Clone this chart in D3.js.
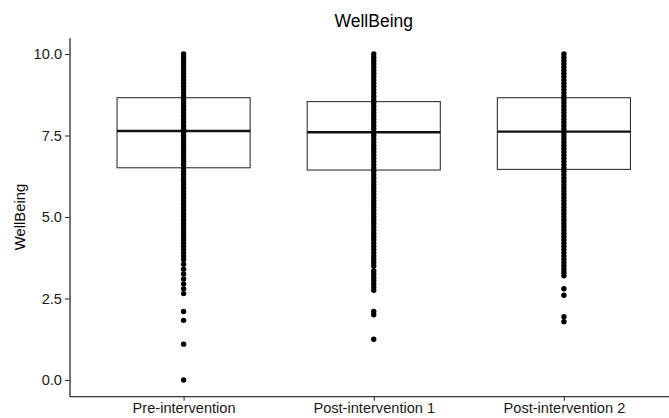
<!DOCTYPE html>
<html>
<head>
<meta charset="utf-8">
<script src="https://cdn.jsdelivr.net/npm/d3@7"></script>
<style>
  body { margin: 0; background: #fff; }
  svg { display: block; font-family: "Liberation Sans", Arial, sans-serif; }
</style>
</head>
<body>
<div id="chart"></div>
<script>
const width = 669;
const height = 418;

const categories = ['Pre-intervention', 'Post-intervention 1', 'Post-intervention 2'];

// box statistics
const q1 = [6.51, 6.44, 6.46];
const medians = [7.64, 7.60, 7.62];
const q3 = [8.66, 8.54, 8.66];
const whiskerLow = [3.4, 3.35, 3.2];
const whiskerHigh = [10, 10, 10];

// observed scores (one dot per distinct value, they overlap into a column)
const prePoints = [
    10.0, 9.9, 9.8, 9.7, 9.6, 9.5, 9.4, 9.3, 9.2, 9.1, 9.0, 8.9, 8.8, 8.7, 8.6, 8.5,
    8.4, 8.3, 8.2, 8.1, 8.0, 7.9, 7.8, 7.7, 7.6, 7.5, 7.4, 7.3, 7.2, 7.1, 7.0, 6.9,
    6.8, 6.7, 6.6, 6.5, 6.4, 6.3, 6.2, 6.1, 6.0, 5.9, 5.8, 5.7, 5.6, 5.5, 5.4, 5.3,
    5.2, 5.1, 5.0, 4.9, 4.8, 4.7, 4.6, 4.5, 4.4, 4.3, 4.2, 4.1, 4.0, 3.9, 3.8, 3.7,
    3.55, 3.4, 3.25, 3.1, 2.95, 2.8, 2.65,
    2.1, 1.83, 1.1, 0.0
];
const post1Points = [
    10.0, 9.9, 9.8, 9.7, 9.6, 9.5, 9.4, 9.3, 9.2, 9.1, 9.0, 8.9, 8.8, 8.7, 8.6, 8.5,
    8.4, 8.3, 8.2, 8.1, 8.0, 7.9, 7.8, 7.7, 7.6, 7.5, 7.4, 7.3, 7.2, 7.1, 7.0, 6.9,
    6.8, 6.7, 6.6, 6.5, 6.4, 6.3, 6.2, 6.1, 6.0, 5.9, 5.8, 5.7, 5.6, 5.5, 5.4, 5.3,
    5.2, 5.1, 5.0, 4.9, 4.8, 4.7, 4.6, 4.5, 4.4, 4.3, 4.2, 4.1, 4.0, 3.9, 3.8, 3.7,
    3.6, 3.5, 3.35, 3.25, 3.15, 3.05, 2.95, 2.85, 2.75,
    2.1, 2.0, 1.25
];
const post2Points = [
    10.0, 9.9, 9.8, 9.7, 9.6, 9.5, 9.4, 9.3, 9.2, 9.1, 9.0, 8.9, 8.8, 8.7, 8.6, 8.5,
    8.4, 8.3, 8.2, 8.1, 8.0, 7.9, 7.8, 7.7, 7.6, 7.5, 7.4, 7.3, 7.2, 7.1, 7.0, 6.9,
    6.8, 6.7, 6.6, 6.5, 6.4, 6.3, 6.2, 6.1, 6.0, 5.9, 5.8, 5.7, 5.6, 5.5, 5.4, 5.3,
    5.2, 5.1, 5.0, 4.9, 4.8, 4.7, 4.6, 4.5, 4.4, 4.3, 4.2, 4.1, 4.0, 3.9, 3.8, 3.7,
    3.6, 3.5, 3.4, 3.3, 3.2,
    2.8, 2.6,
    1.94, 1.79
];

const yTicks = [0, 2.5, 5, 7.5, 10];

const panel = {left: 69.5, right: 678, top: 37.7, bottom: 396.3};

const svg = d3.select('#chart').append('svg')
    .attr('width', width)
    .attr('height', height)
    .attr('viewBox', [0, 0, width, height]);

const x = d3.scalePoint()
    .domain(categories)
    .range([panel.left, panel.right])
    .padding(0.6);

const y = d3.scaleLinear()
    .domain([-0.5, 10.5])
    .range([panel.bottom, panel.top]);

const boxHalf = x.step() * 0.35;

const boxes = categories.map((c, i) => ({
    cat: c, q1: q1[i], med: medians[i], q3: q3[i], lo: whiskerLow[i], hi: whiskerHigh[i]
}));

const points = [];
prePoints.forEach(v => points.push({cat: categories[0], v}));
post1Points.forEach(v => points.push({cat: categories[1], v}));
post2Points.forEach(v => points.push({cat: categories[2], v}));

// boxes
const box = svg.append('g').selectAll('g').data(boxes).join('g');

box.append('line')
    .attr('x1', d => x(d.cat)).attr('x2', d => x(d.cat))
    .attr('y1', d => y(d.q3)).attr('y2', d => y(d.hi))
    .attr('stroke', '#333').attr('stroke-width', 1);
box.append('line')
    .attr('x1', d => x(d.cat)).attr('x2', d => x(d.cat))
    .attr('y1', d => y(d.q1)).attr('y2', d => y(d.lo))
    .attr('stroke', '#333').attr('stroke-width', 1);

box.append('rect')
    .attr('x', d => x(d.cat) - boxHalf)
    .attr('width', boxHalf * 2)
    .attr('y', d => y(d.q3))
    .attr('height', d => y(d.q1) - y(d.q3))
    .attr('fill', '#fff')
    .attr('stroke', '#333')
    .attr('stroke-width', 1.1);

box.append('line')
    .attr('x1', d => x(d.cat) - boxHalf).attr('x2', d => x(d.cat) + boxHalf)
    .attr('y1', d => y(d.med)).attr('y2', d => y(d.med))
    .attr('stroke', '#111').attr('stroke-width', 2.4);

// points
svg.append('g').selectAll('circle').data(points).join('circle')
    .attr('cx', d => x(d.cat))
    .attr('cy', d => y(d.v))
    .attr('r', 2.7)
    .attr('fill', '#000');

// axes
const yAxis = svg.append('g')
    .attr('transform', `translate(${panel.left},0)`)
    .call(d3.axisLeft(y).tickValues(yTicks).tickFormat(d3.format('.1f')).tickSize(4.5).tickSizeOuter(0).tickPadding(3));

const xAxis = svg.append('g')
    .attr('transform', `translate(0,${panel.bottom})`)
    .call(d3.axisBottom(x).tickSize(4.5).tickSizeOuter(0).tickPadding(3));

[yAxis, xAxis].forEach(a => {
    a.select('.domain').attr('stroke', '#000').attr('stroke-width', 1.1);
    a.selectAll('.tick line').attr('stroke', '#333').attr('stroke-width', 1.1);
    a.selectAll('.tick text')
        .attr('fill', '#1a1a1a')
        .style('font-size', '14.6px')
        .style('font-family', '"Liberation Sans", Arial, sans-serif');
});
xAxis.selectAll('.tick text').attr('dy', '0.66em');

// titles
svg.append('text')
    .attr('x', (panel.left + panel.right) / 2)
    .attr('y', 27)
    .attr('text-anchor', 'middle')
    .style('font-size', '17.5px')
    .attr('fill', '#000')
    .text('WellBeing');

svg.append('text')
    .attr('transform', `translate(25,${(panel.top + panel.bottom) / 2}) rotate(-90)`)
    .attr('text-anchor', 'middle')
    .style('font-size', '14.8px')
    .attr('fill', '#000')
    .text('WellBeing');
</script>
</body>
</html>
